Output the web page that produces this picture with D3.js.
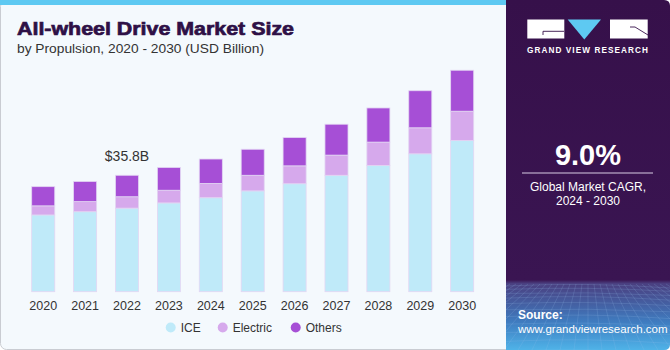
<!DOCTYPE html>
<html><head><meta charset="utf-8">
<script src="https://cdn.jsdelivr.net/npm/d3@7"></script>
<style>html,body{margin:0;padding:0;background:#fff;}svg{display:block;}</style>
</head><body>
<svg id="c" width="670" height="350"></svg>
<script>
const years = ["2020","2021","2022","2023","2024","2025","2026","2027","2028","2029","2030"];
const ice      = [23.6,24.6,25.7,27.3,28.9,31.0,33.2,35.8,38.8,42.4,46.5];
const electric = [2.8,3.1,3.5,3.9,4.4,4.8,5.5,6.2,7.2,8.0,9.0];
const others   = [5.9,6.2,6.6,7.0,7.5,8.0,8.7,9.5,10.5,11.4,12.6];
const seriesNames = ["ICE","Electric","Others"];
const colors = ["#bfeaf9","#d6a9ec","#a64fd6"];
const annotation = {year:"2022", text:"$35.8B"};

const svg = d3.select("#c");
const font = "'Liberation Sans', Arial, sans-serif";

// card background
svg.append("rect").attr("x",0.5).attr("y",0.5).attr("width",669).attr("height",349)
  .attr("rx",6).attr("fill","#f4f9fd").attr("stroke","#c9ccd2");
svg.append("rect").attr("x",0).attr("y",0).attr("width",506).attr("height",5).attr("fill","#5ec9f2");

// right panel
const defs = svg.append("defs");
const g1 = defs.append("linearGradient").attr("id","pg").attr("x1",0).attr("y1",0).attr("x2",0).attr("y2",1);
g1.append("stop").attr("offset","0").attr("stop-color","#36104a");
g1.append("stop").attr("offset","0.80").attr("stop-color","#3a1552");
g1.append("stop").attr("offset","0.81").attr("stop-color","#4a3f80");
g1.append("stop").attr("offset","0.92").attr("stop-color","#3f7cc0");
g1.append("stop").attr("offset","1").attr("stop-color","#4fb3e8");
defs.append("clipPath").attr("id","pc").append("path")
  .attr("d","M506,0 H664 Q670,0 670,6 V344 Q670,350 664,350 H506 Z");
const panel = svg.append("g").attr("clip-path","url(#pc)");
panel.append("rect").attr("x",506).attr("y",0).attr("width",164).attr("height",350).attr("fill","url(#pg)");
// decorative grid
const grid = panel.append("g").attr("stroke","#9cc0ee").attr("stroke-opacity",0.3).attr("stroke-width",0.6).attr("fill","none");
for(let i=0;i<14;i++){ const y=286+i*i*0.35+i*3; grid.append("path").attr("d",`M506,${y} Q588,${y-4+ (i%3)} 670,${y+2}`);}
for(let i=-10;i<=22;i++){ const xt=588+(i-6)*6, xb=588+(i-6)*14; grid.append("line").attr("x1",xt).attr("y1",284).attr("x2",xb).attr("y2",350);}

// logo
panel.append("rect").attr("x",527.3).attr("y",19.5).attr("width",37).attr("height",19).attr("fill","#fff");
panel.append("path").attr("d","M543,35 V31.3 H564").attr("stroke","#36104a").attr("stroke-width",0.9).attr("fill","none");
panel.append("path").attr("d","M567.7,19.5 L601,19.5 L584.3,39.5 Z").attr("fill","#5ec9f2");
panel.append("rect").attr("x",610).attr("y",19.5).attr("width",37.7).attr("height",19).attr("fill","#fff");
panel.append("path").attr("d","M630,27 H635 L648,35").attr("stroke","#36104a").attr("stroke-width",0.9).attr("fill","none");
panel.append("text").attr("x",587.5).attr("y",53.3).attr("text-anchor","middle").attr("fill","#fff")
  .attr("font-family",font).attr("font-weight","bold").attr("font-size",8.2).attr("textLength",121).attr("lengthAdjust","spacing").text("GRAND VIEW RESEARCH");

panel.append("text").attr("x",588).attr("y",165).attr("text-anchor","middle").attr("fill","#fff")
  .attr("font-family",font).attr("font-weight","bold").attr("font-size",29).text("9.0%");
panel.append("line").attr("x1",522).attr("x2",653).attr("y1",173).attr("y2",173).attr("stroke","#d8cde4").attr("stroke-width",1);
panel.append("text").attr("x",588).attr("y",191).attr("text-anchor","middle").attr("fill","#fff")
  .attr("font-family",font).attr("font-size",12).text("Global Market CAGR,");
panel.append("text").attr("x",588).attr("y",205).attr("text-anchor","middle").attr("fill","#fff")
  .attr("font-family",font).attr("font-size",12).text("2024 - 2030");
panel.append("text").attr("x",518).attr("y",319).attr("fill","#fff")
  .attr("font-family",font).attr("font-weight","bold").attr("font-size",12).text("Source:");
panel.append("text").attr("x",518).attr("y",333).attr("fill","#fff")
  .attr("font-family",font).attr("font-size",11.5).text("www.grandviewresearch.com");

// title
svg.append("text").attr("x",17).attr("y",35).attr("fill","#2e1046").attr("stroke","#2e1046").attr("stroke-width",0.7)
  .attr("font-family",font).attr("font-weight","900").attr("font-size",19)
  .attr("textLength",277).attr("lengthAdjust","spacingAndGlyphs").text("All-wheel Drive Market Size");
svg.append("text").attr("x",17).attr("y",53).attr("fill","#333")
  .attr("font-family",font).attr("font-size",13.2).attr("textLength",247).attr("lengthAdjust","spacingAndGlyphs").text("by Propulsion, 2020 - 2030 (USD Billion)");

// chart
const x = d3.scaleBand().domain(years).range([31.7,473.7]).paddingInner(0.45).paddingOuter(0);
const y = d3.scaleLinear().domain([0,70]).range([291.7,291.7-70*3.252]);
const data = years.map((yr,i)=>({year:yr, ICE:ice[i], Electric:electric[i], Others:others[i]}));
const stack = d3.stack().keys(seriesNames)(data);
const cg = svg.append("g");
stack.forEach((s,si)=>{
  cg.selectAll(null).data(s).join("rect")
    .attr("x",d=>x(d.data.year)).attr("width",x.bandwidth())
    .attr("y",d=>y(d[1])).attr("height",d=>y(d[0])-y(d[1]))
    .attr("fill",colors[si]).attr("stroke","#e3d6f3").attr("stroke-width",0.8);
});

// x axis labels
const ax = svg.append("g").attr("transform","translate(0,291.7)")
  .call(d3.axisBottom(x).tickSize(0).tickPadding(9));
ax.select(".domain").remove();
ax.selectAll("text").attr("font-family",font).attr("font-size",12.5).attr("fill","#333");

// annotation
const ai = years.indexOf(annotation.year);
svg.append("text").attr("x",x(annotation.year)+x.bandwidth()/2).attr("y",y(ice[ai]+electric[ai]+others[ai])-14)
  .attr("text-anchor","middle").attr("font-family",font).attr("font-size",14).attr("fill","#333").text(annotation.text);

// legend
const lx = [170.7,222.7,295.7];
seriesNames.forEach((n,i)=>{
  svg.append("circle").attr("cx",lx[i]).attr("cy",327.5).attr("r",5).attr("fill",colors[i]);
  svg.append("text").attr("x",lx[i]+10).attr("y",332).attr("font-family",font).attr("font-size",12).attr("fill","#333").text(n);
});
</script>
</body></html>
